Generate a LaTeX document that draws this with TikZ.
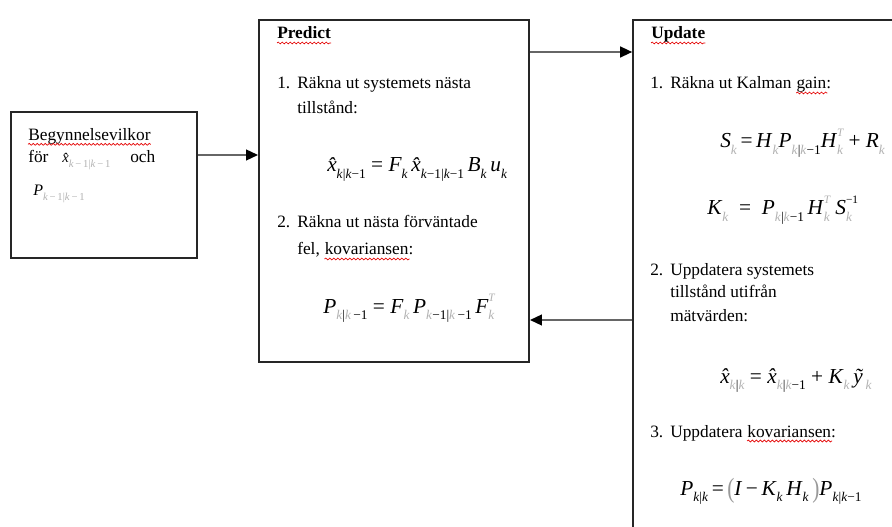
\documentclass[tikz,border=0pt]{standalone}
\usepackage{fontspec}
\setmainfont{Liberation Serif}
\usetikzlibrary{arrows.meta,decorations.pathmorphing}
\newcommand\mysub[1]{\raisebox{-0.3em}{\fontsize{10pt}{11pt}\selectfont #1}}
\newcommand\mysup[1]{\raisebox{0.55em}{\fontsize{8.5pt}{9pt}\selectfont #1}}
\newcommand\smsub[1]{\raisebox{-0.3em}{\fontsize{8pt}{9pt}\selectfont #1}}
\newcommand\gk{\textcolor{black!30}{\textit{k}}}
\newcommand\bk{\textit{k}}
\newcommand\hx{{\itshape\^{x}}}
\newcommand\gT{\textcolor{black!30}{\textit{T}}}
\newcommand\tallpar[1]{\textcolor{black!40}{\raisebox{-0.12em}{\scalebox{1}[1.3]{#1}}}}
\begin{document}
\begin{tikzpicture}[x=0.75pt,y=-0.75pt,
  box/.style={draw=black!85,line width=1.4pt,fill=white,inner sep=0pt},
  txt/.style={anchor=base west,inner sep=0pt,font=\fontsize{13pt}{15pt}\selectfont},
  eq/.style={anchor=base west,inner sep=0pt,font=\fontsize{16pt}{18pt}\selectfont},
  arr/.style={draw=black!60,line width=1.6pt,-{Triangle[length=9pt,width=8pt,fill=black,color=black]}},
  squig/.style={draw=red!90!black,line width=0.5pt,decorate,decoration={snake,amplitude=0.7pt,segment length=3pt}}]
\useasboundingbox (0,0) rectangle (892,527);
\clip (0,0) rectangle (892,527);
\fill[white] (0,0) rectangle (892,527);
% boxes
\node[box,minimum width=139.5pt,minimum height=109.5pt] (lb) at (104,185) {};
\node[box,minimum width=202.5pt,minimum height=256.5pt] (pred) at (394,191) {};
\node[box,minimum width=275pt,minimum height=435pt] (upd) at (816.5,310) {};
% arrow levels
\coordinate (ya) at (0,155);
\coordinate (yb) at (0,52);
\coordinate (yc) at (0,320);
\draw[arr] (lb.east |- ya) -- (pred.west |- ya);
\draw[arr] (pred.east |- yb) -- (upd.west |- yb);
\draw[arr] (upd.west |- yc) -- (pred.east |- yc);
% left box text
\node[txt] (b1) at (28,141) {Begynnelsevilkor};
\node[txt] (b2) at (28,163) {för};
\node[txt] (b3) at (62,163) {\fontsize{11pt}{12pt}\selectfont\hx\smsub{\textcolor{black!30}{\textit{k}\,−\,1|\textit{k}\,−\,1}}};
\node[txt] (b4) at (130,163) {och};
\node[txt] (b5) at (33,196) {\fontsize{12pt}{13pt}\selectfont\textit{P}\smsub{\textcolor{black!30}{\textit{k}\,−\,1|\textit{k}\,−\,1}}};
% predict
\node[txt] (p0) at (277,39) {\textbf{Predict}};
\node[txt] (p1n) at (277,89) {1.};
\node[txt] (p1) at (297,89) {Räkna ut systemets nästa};
\node[txt] (p1b) at (297,114) {tillstånd:};
\node[eq] (pe1) at (327,172) {\hx\mysub{\bk|\bk−1} = \textit{F}\mysub{\bk}\,\hx\mysub{\bk−1|\bk−1}\,\textit{B}\mysub{\bk}\,\textit{u}\mysub{\bk}};
\node[txt] (p2n) at (277,228) {2.};
\node[txt] (p2) at (297,228) {Räkna ut nästa förväntade};
\node[txt] (p2b) at (297,255) {fel,};
\node[txt] (p2c) at ([xshift=3.3pt]p2b.base east) {kovariansen:};
\node[eq] (pe2) at (323,313) {\textit{P}\mysub{\gk|\gk\,−1}\ =\ \textit{F}\mysub{\gk}\,\textit{P}\mysub{\gk−1|\gk\,−1}\,\textit{F}\rlap{\mysup{\gT}}\mysub{\gk}};
% update
\node[txt] (u0) at (651,39) {\textbf{Update}};
\node[txt] (u1n) at (650,89) {1.};
\node[txt] (u1) at (670,89) {Räkna ut Kalman};
\node[txt] (u1g) at ([xshift=3.3pt]u1.base east) {gain:};
\node[eq] (ue1) at (720,148) {\textit{S}\mysub{\gk}\,=\,\textit{H}\mysub{\gk}\textit{P}\mysub{\gk|\gk−1}\textit{H}\rlap{\mysup{\gT}}\mysub{\gk} + \textit{R}\mysub{\gk}};
\node[eq] (ue2) at (707,215) {\textit{K}\mysub{\gk}\ \ =\ \ \textit{P}\mysub{\gk|\gk−1}\,\textit{H}\rlap{\mysup{\gT}}\mysub{\gk}\ \textit{S}\rlap{\mysup{−1}}\mysub{\gk}\hspace{0.8em}};
\node[txt] (u2n) at (650,276) {2.};
\node[txt] (u2) at (670,276) {Uppdatera systemets};
\node[txt] (u2b) at (670,297) {tillstånd utifrån};
\node[txt] (u2c) at (670,321) {mätvärden:};
\node[eq] (ue3) at (720,383) {\hx\mysub{\gk|\gk}\ =\ \hx\mysub{\gk|\gk−1} + \textit{K}\mysub{\gk}\,\textit{\~{y}}\mysub{\,\gk}};
\node[txt] (u3n) at (650,437) {3.};
\node[txt] (u3) at (670,437) {Uppdatera};
\node[txt] (u3k) at ([xshift=3.3pt]u3.base east) {kovariansen:};
\node[eq] (ue4) at (680,495) {\textit{P}\mysub{\bk|\bk}\,=\,\tallpar{(}\textit{I}\,−\,\textit{K}\mysub{\bk}\,\textit{H}\mysub{\bk}\,\tallpar{)}\textit{P}\mysub{\bk|\bk−1}};
% spell-check squiggles
\draw[squig] ([yshift=-2.5pt]b1.base west) -- ([yshift=-2.5pt]b1.base east);
\draw[squig] ([yshift=-3pt]p0.base west) -- ([yshift=-3pt]p0.base east);
\draw[squig] ([yshift=-3pt]u0.base west) -- ([yshift=-3pt]u0.base east);
\draw[squig] ([yshift=-3pt]u1g.base west) -- ([yshift=-3pt,xshift=-3pt]u1g.base east);
\draw[squig] ([yshift=-3pt]p2c.base west) -- ([yshift=-3pt,xshift=-3pt]p2c.base east);
\draw[squig] ([yshift=-3pt]u3k.base west) -- ([yshift=-3pt,xshift=-3pt]u3k.base east);
\end{tikzpicture}
\end{document}
